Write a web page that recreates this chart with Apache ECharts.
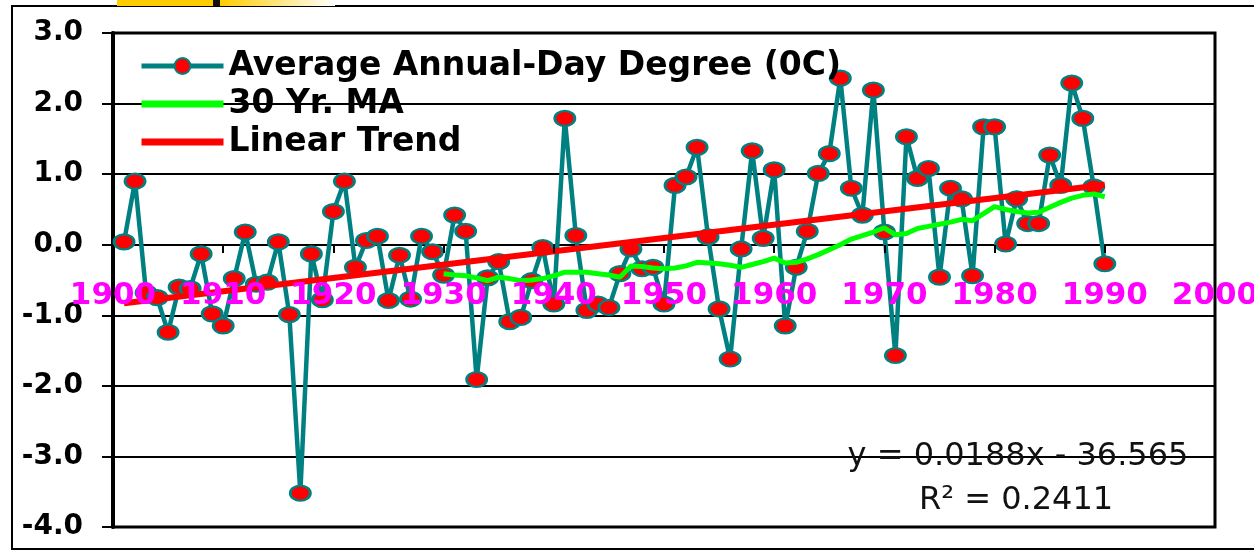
<!DOCTYPE html>
<html><head><meta charset="utf-8">
<script src="https://cdn.jsdelivr.net/npm/echarts@6/dist/echarts.min.js"></script>
<style>html,body{margin:0;padding:0;background:#fff}#c{width:1254px;height:553px}</style>
</head><body><div id="c"></div>
<script>
// ---- data ----
const obsStartYear = 1901;
const observed = [
  0.04, 0.90, -0.68, -0.75, -1.24, -0.60, -0.62, -0.13, -0.98, -1.15,
  -0.48, 0.18, -0.56, -0.53, 0.04, -0.99, -3.52, -0.13, -0.78, 0.47,
  0.90, -0.32, 0.06, 0.12, -0.79, -0.15, -0.77, 0.12, -0.10, -0.43,
  0.42, 0.19, -1.91, -0.47, -0.24, -1.09, -1.03, -0.51, -0.04, -0.84,
  1.79, 0.13, -0.93, -0.84, -0.89, -0.41, -0.06, -0.34, -0.32, -0.84,
  0.84, 0.96, 1.38, 0.11, -0.91, -1.62, -0.06, 1.33, 0.09, 1.06,
  -1.15, -0.32, 0.19, 1.01, 1.29, 2.36, 0.80, 0.42, 2.19, 0.18,
  -1.57, 1.53, 0.94, 1.08, -0.46, 0.80, 0.65, -0.44, 1.67, 1.67,
  0.01, 0.65, 0.30, 0.30, 1.27, 0.84, 2.29, 1.79, 0.82, -0.27
];
const maStartYear = 1930;
const movingAvg = [
  -0.41, -0.43, -0.44, -0.47, -0.51, -0.46, -0.48, -0.51, -0.50, -0.48,
  -0.44, -0.39, -0.39, -0.39, -0.41, -0.43, -0.46, -0.30, -0.31, -0.33,
  -0.34, -0.33, -0.30, -0.25, -0.26, -0.27, -0.29, -0.32, -0.28, -0.24,
  -0.19, -0.26, -0.25, -0.20, -0.14, -0.07, 0.00, 0.08, 0.13, 0.18,
  0.24, 0.14, 0.16, 0.23, 0.26, 0.29, 0.32, 0.36, 0.34, 0.44,
  0.54, 0.50, 0.47, 0.45, 0.46, 0.53, 0.60, 0.66, 0.70, 0.72,
  0.68
];
const trendYears = [1901, 1990];
const trendValues = [-0.83, 0.85];
const seriesNames = ['Average Annual-Day Degree (0C)', '30 Yr. MA', 'Linear Trend'];
const equationText = 'y = 0.0188x - 36.565';
const r2Text = 'R\u00B2 = 0.2411';
const yMin = -4, yMax = 3;

// ---- build ----
const obsData = observed.map((v, i) => [obsStartYear + i, v]);
const maData = movingAvg.map((v, i) => [maStartYear + i, v]);
const trendData = trendYears.map((y, i) => [y, trendValues[i]]);

const FONT = 'DejaVu Sans';
const GRID_TOP = 33, GRID_BOTTOM = 26, H = 553;
const plotH = H - GRID_TOP - GRID_BOTTOM;
// move the x axis (labels + ticks) up so that it sits on the y = 0 line
const xAxisOffset = -Math.round(plotH * (0 - yMin) / (yMax - yMin));

const chart = echarts.init(document.getElementById('c'), null, {renderer: 'canvas'});
chart.setOption({
  animation: false,
  backgroundColor: '#fff',
  grid: {left: 113, right: 39, top: GRID_TOP, bottom: GRID_BOTTOM, show: true, borderColor: '#000', borderWidth: 3,
    containLabel: false, outerBoundsMode: 'none'},
  xAxis: {
    type: 'value', min: 1900, max: 2000, interval: 10, z: 5,
    position: 'bottom', offset: xAxisOffset,
    axisLine: {show: false, onZero: false},
    axisTick: {show: true, length: 8, lineStyle: {color: '#000', width: 2}},
    splitLine: {show: false},
    axisLabel: {color: '#ff00ff', fontFamily: FONT, fontWeight: 'bold', fontSize: 31, margin: 35,
      formatter: v => String(v)}
  },
  yAxis: {
    type: 'value', min: yMin, max: yMax, interval: 1,
    axisLine: {show: true, lineStyle: {color: '#000', width: 4}},
    axisTick: {show: true, length: 11, lineStyle: {color: '#000', width: 2}},
    splitLine: {show: true, lineStyle: {color: '#000', width: 2}},
    axisLabel: {color: '#000', fontFamily: FONT, fontWeight: 'bold', fontSize: 28, margin: 30,
      formatter: v => v.toFixed(1)}
  },
  legend: {
    orient: 'vertical', left: 133, top: 42, itemWidth: 82, itemHeight: 20, itemGap: 0,
    textStyle: {fontFamily: FONT, fontWeight: 'bold', fontSize: 33, color: '#000', lineHeight: 38, padding: [0, 0, 0, 0]},
    data: [
      {name: seriesNames[0], lineStyle: {width: 5}},
      {name: seriesNames[1], lineStyle: {width: 7}, itemStyle: {opacity: 0}},
      {name: seriesNames[2], lineStyle: {width: 7}, itemStyle: {opacity: 0}}
    ]
  },
  series: [
    {
      name: seriesNames[0], type: 'line', data: obsData, z: 2,
      lineStyle: {color: '#008080', width: 4.5},
      symbol: 'circle', symbolSize: [20, 15], showSymbol: true,
      itemStyle: {color: '#ff0000', borderColor: '#008080', borderWidth: 2.5}
    },
    {
      name: seriesNames[1], type: 'line', data: maData, z: 3,
      symbol: 'none', lineStyle: {color: '#00ff00', width: 5}, itemStyle: {color: '#00ff00'}
    },
    {
      name: seriesNames[2], type: 'line', data: trendData, z: 4,
      symbol: 'none', lineStyle: {color: '#ff0000', width: 6}, itemStyle: {color: '#ff0000'}
    }
  ],
  graphic: [
    {type: 'rect', z: 0, shape: {x: 12, y: 6, width: 1260, height: 543}, style: {fill: 'none', stroke: '#000', lineWidth: 2}},
    {type: 'rect', z: 0, shape: {x: 117, y: 0, width: 96, height: 6}, style: {fill: '#ffcc00'}},
    {type: 'rect', z: 0, shape: {x: 213, y: 0, width: 7, height: 6}, style: {fill: '#111'}},
    {type: 'rect', z: 0, shape: {x: 220, y: 0, width: 115, height: 6},
      style: {fill: new echarts.graphic.LinearGradient(0, 0, 1, 0, [{offset: 0, color: '#ffcc00'}, {offset: 1, color: '#ffffff'}])}},
    {type: 'text', z: 10, x: 1018, y: 457, style: {text: equationText, fontFamily: FONT, fontSize: 32, fill: '#111', align: 'center', verticalAlign: 'middle'}},
    {type: 'text', z: 10, x: 1016, y: 501, style: {text: r2Text, fontFamily: FONT, fontSize: 32, fill: '#111', align: 'center', verticalAlign: 'middle'}}
  ]
});
</script></body></html>
